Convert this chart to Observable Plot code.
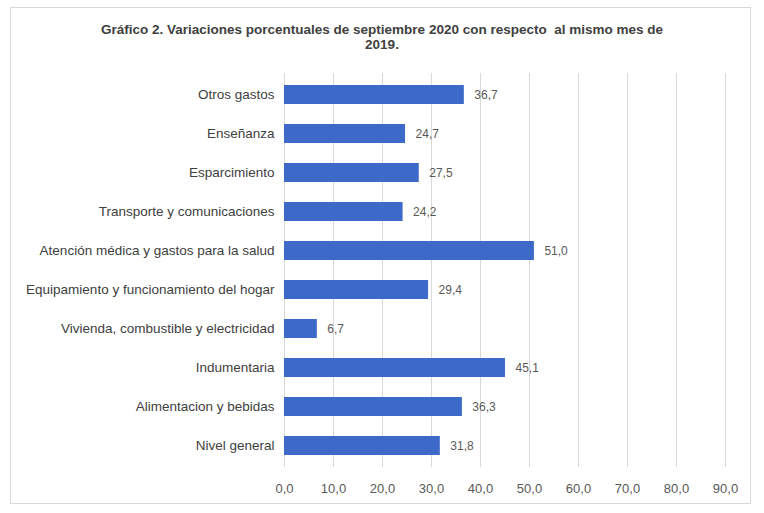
<!DOCTYPE html>
<html>
<head>
<meta charset="utf-8">
<script src="https://cdn.jsdelivr.net/npm/d3@7"></script>
<script src="https://cdn.jsdelivr.net/npm/@observablehq/plot@0.6"></script>
<style>
  html, body { margin: 0; padding: 0; background: #fff; }
  body { width: 764px; height: 513px; position: relative; overflow: hidden; }
  #frame { position: absolute; left: 10px; top: 7px; width: 741px; height: 497px; border: 1px solid #d9d9d9; box-sizing: border-box; }
  #title { position: absolute; left: 0; top: 22px; width: 764px; text-align: center; font-family: "Liberation Sans", Arial, sans-serif; font-weight: bold; font-size: 13.5px; line-height: 15px; color: #404040; }
  #chart { position: absolute; left: 0; top: 60px; }
  #chart svg { overflow: visible; }
</style>
</head>
<body>
<div id="frame"></div>
<div id="title">Gráfico 2. Variaciones porcentuales de septiembre 2020 con respecto&nbsp; al mismo mes de<br>2019.</div>
<div id="chart"></div>
<script>
const categories = [
  "Otros gastos",
  "Enseñanza",
  "Esparcimiento",
  "Transporte y comunicaciones",
  "Atención médica y gastos para la salud",
  "Equipamiento y funcionamiento del hogar",
  "Vivienda, combustible y electricidad",
  "Indumentaria",
  "Alimentacion y bebidas",
  "Nivel general"
];
const values = [36.7, 24.7, 27.5, 24.2, 51.0, 29.4, 6.7, 45.1, 36.3, 31.8];
const xTicks = [0, 10, 20, 30, 40, 50, 60, 70, 80, 90];

const data = categories.map((c, i) => ({category: c, value: values[i]}));
const fmt = d => d.toFixed(1).replace(".", ",");

const chart = Plot.plot({
  width: 764,
  height: 445,
  marginLeft: 284,
  marginRight: 39,
  marginTop: 13,
  marginBottom: 38,
  style: {fontFamily: "'Liberation Sans', Arial, sans-serif", fontSize: "12px", color: "#404040", background: "transparent"},
  x: {domain: [0, 90]},
  y: {domain: categories, paddingInner: 0.52, paddingOuter: 0.26},
  marks: [
    Plot.gridX(xTicks, {stroke: "#d9d9d9", strokeOpacity: 1, strokeWidth: 1}),
    Plot.barX(data, {x: "value", y: "category", fill: "#3d69c8", style: "filter: drop-shadow(1.5px 2px 1.5px rgba(0,0,0,0.35))"}),
    Plot.text(data, {x: "value", y: "category", text: d => fmt(d.value), dx: 10, textAnchor: "start", fill: "#595959", fontSize: 12}),
    Plot.axisY({tickSize: 0, tickPadding: 10, label: null, fontSize: 13.5, fill: "#404040"}),
    Plot.axisX({ticks: xTicks, tickSize: 0, tickPadding: 16, tickFormat: fmt, label: null, fontSize: 13, fill: "#595959"})
  ]
});
document.getElementById("chart").appendChild(chart);
</script>
</body>
</html>
